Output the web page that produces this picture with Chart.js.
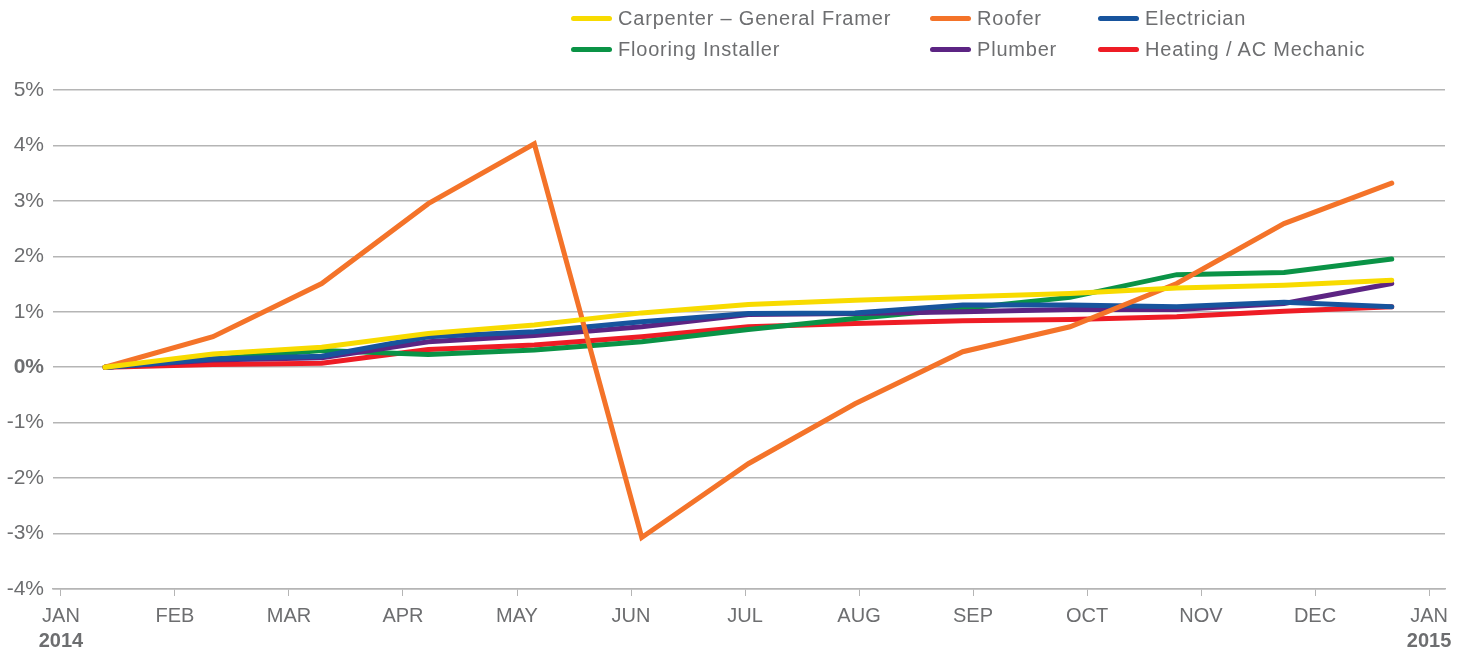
<!DOCTYPE html>
<html>
<head>
<meta charset="utf-8">
<script src="https://cdn.jsdelivr.net/npm/chart.js@4/dist/chart.umd.min.js"></script>
<style>
    html, body { margin: 0; padding: 0; background: #fff; }
    #wrap { position: relative; width: 1465px; height: 653px; }
    #grafico { position: absolute; left: 0; top: 0; }
    .leg { position: absolute; font-family: "Liberation Sans", Arial, sans-serif;
           font-size: 20px; letter-spacing: 0.8px; color: #6d6e70; white-space: nowrap; line-height: 20px; }
    .leg span { display: inline-block; width: 41px; height: 5px; border-radius: 3px;
                vertical-align: middle; margin-right: 6px; position: relative; top: -1px; }
</style>
</head>
<body>
<div id="wrap">
    <canvas id="grafico" width="1465" height="653"></canvas>
    <div id="legenda"></div>
</div>
<script>
// Dados (variação acumulada em %)
const mesesX = [0.386, 1.333, 2.287, 3.222, 4.152, 5.094, 6.029, 6.965, 7.910, 8.851, 9.787, 10.728, 11.673];
const rotulosMeses = ['JAN', 'FEB', 'MAR', 'APR', 'MAY', 'JUN', 'JUL', 'AUG', 'SEP', 'OCT', 'NOV', 'DEC', 'JAN'];
const rotulosAnos = ['2014', '2015'];

const carpinteiro = [0, 0.24, 0.36, 0.61, 0.76, 0.98, 1.13, 1.21, 1.27, 1.33, 1.43, 1.48, 1.57];
const telhadista = [0, 0.55, 1.51, 2.95, 4.03, -3.07, -1.74, -0.66, 0.28, 0.73, 1.51, 2.59, 3.32];
const eletricista = [0, 0.15, 0.20, 0.55, 0.64, 0.82, 0.97, 0.98, 1.12, 1.12, 1.09, 1.17, 1.09];
const pisos = [0, 0.15, 0.30, 0.23, 0.31, 0.46, 0.68, 0.88, 1.06, 1.26, 1.67, 1.71, 1.95];
const encanador = [0, 0.13, 0.17, 0.46, 0.57, 0.73, 0.95, 0.97, 1.00, 1.04, 1.04, 1.15, 1.51];
const climatizacao = [0, 0.05, 0.07, 0.32, 0.40, 0.55, 0.73, 0.79, 0.84, 0.86, 0.91, 1.01, 1.09];

const nomes = ['Carpenter – General Framer', 'Roofer', 'Electrician',
               'Flooring Installer', 'Plumber', 'Heating / AC Mechanic'];
const cores = ['#f8db00', '#f47329', '#17549d', '#0a9346', '#5c2483', '#ee1c25'];
const series = [carpinteiro, telhadista, eletricista, pisos, encanador, climatizacao];
// ordem de desenho (menor fica por cima)
const ordem = [0, 1, 2, 4, 3, 5];

const fonteEixo = '"Liberation Sans", Arial, sans-serif';
const corTexto = '#6d6e70';

function montarPontos(valores) {
    let pontos = [];
    for (let i = 0; i < valores.length; i++) {
        pontos.push({ x: mesesX[i], y: valores[i] });
    }
    return pontos;
}

// Legenda em HTML, 3 colunas x 2 linhas
function montarLegenda() {
    let colunas = [571, 930, 1098];
    let linhas = [8, 39];
    let html = '';
    for (let i = 0; i < nomes.length; i++) {
        let x = colunas[i % 3];
        let y = linhas[Math.floor(i / 3)];
        html += '<div class="leg" style="left:' + x + 'px;top:' + y + 'px">' +
                '<span style="background:' + cores[i] + '"></span>' + nomes[i] + '</div>';
    }
    document.getElementById('legenda').innerHTML = html;
}

// Plugin para escrever os anos em negrito abaixo dos meses
const pluginAnos = {
    id: 'anos',
    afterDraw(chart) {
        let ctx = chart.ctx;
        let escala = chart.scales.x;
        ctx.save();
        ctx.font = 'bold 20px ' + fonteEixo;
        ctx.fillStyle = corTexto;
        ctx.textAlign = 'center';
        ctx.textBaseline = 'middle';
        ctx.fillText(rotulosAnos[0], escala.getPixelForValue(0), 641);
        ctx.fillText(rotulosAnos[1], escala.getPixelForValue(12), 641);
        ctx.restore();
    }
};

function plotarGrafico() {
    let datasets = [];
    for (let i = 0; i < series.length; i++) {
        datasets.push({
            label: nomes[i],
            data: montarPontos(series[i]),
            borderColor: cores[i],
            backgroundColor: cores[i],
            borderWidth: 5,
            borderCapStyle: 'round',
            borderJoinStyle: 'miter',
            pointRadius: 0,
            tension: 0,
            order: ordem[i]
        });
    }

    const config = {
        type: 'line',
        data: { datasets: datasets },
        options: {
            responsive: false,
            animation: false,
            layout: { padding: { top: 90, right: 20, left: 0, bottom: 0 } },
            plugins: {
                legend: { display: false },
                tooltip: { enabled: false }
            },
            scales: {
                x: {
                    type: 'linear',
                    min: -0.07,
                    max: 12.14,
                    afterBuildTicks: function (escala) {
                        escala.ticks = rotulosMeses.map(function (r, i) { return { value: i }; });
                    },
                    afterFit: function (escala) { escala.height = 64; },
                    grid: { drawOnChartArea: false, drawTicks: true, tickLength: 7, color: '#b5b5b5', lineWidth: 1 },
                    border: { display: true, color: '#b5b5b5', width: 1.5 },
                    ticks: {
                        autoSkip: false,
                        maxRotation: 0,
                        padding: 8,
                        color: corTexto,
                        font: { family: fonteEixo, size: 20 },
                        callback: function (valor) { return rotulosMeses[valor]; }
                    }
                },
                y: {
                    min: -4,
                    max: 5,
                    afterFit: function (escala) { escala.width = 53; },
                    grid: { color: '#b5b5b5', lineWidth: 1.5, drawTicks: false },
                    border: { display: false },
                    ticks: {
                        stepSize: 1,
                        padding: 9,
                        color: corTexto,
                        font: function (ctx) {
                            let negrito = ctx.tick && ctx.tick.value === 0;
                            return { family: fonteEixo, size: 21, weight: negrito ? 'bold' : 'normal' };
                        },
                        callback: function (valor) { return valor + '%'; }
                    }
                }
            }
        },
        plugins: [pluginAnos]
    };

    new Chart(document.getElementById('grafico'), config);
}

montarLegenda();
plotarGrafico();
</script>
</body>
</html>
